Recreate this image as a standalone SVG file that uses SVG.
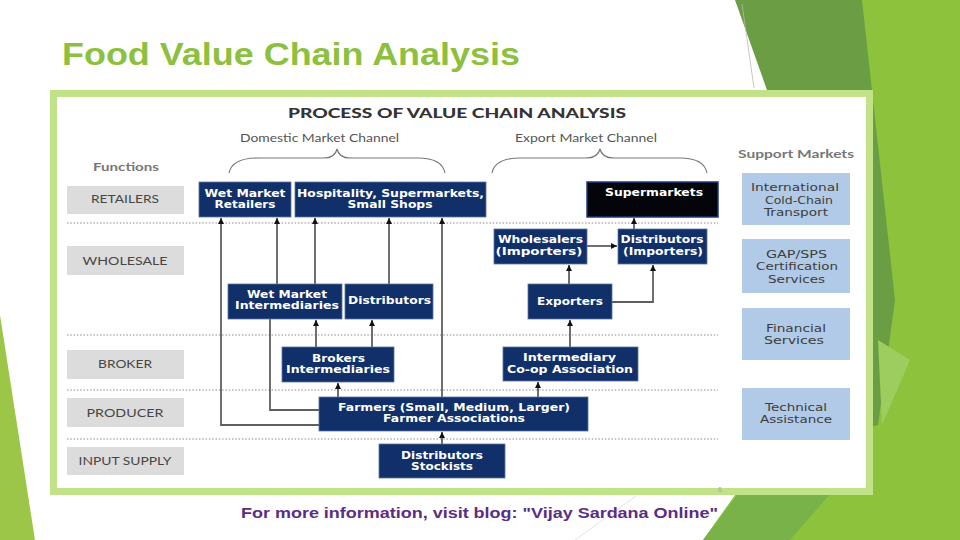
<svg xmlns="http://www.w3.org/2000/svg" width="960" height="540" viewBox="0 0 960 540">
<defs>
<marker id="ah" viewBox="0 0 6 6" refX="6" refY="3" markerWidth="6" markerHeight="6" markerUnits="userSpaceOnUse" orient="auto">
<path d="M0,0 L6,3 L0,6 z" fill="#111"/>
</marker>
<style>
.fnbox{fill:#dcdcdc}
.fn{font-family:Lato,"Liberation Sans",sans-serif;font-size:11.5px;fill:#474747;text-anchor:middle}
.hdr{font-family:Lato,"Liberation Sans",sans-serif;font-size:11.5px;fill:#555;text-anchor:middle}
.hdrb{font-family:Lato,"Liberation Sans",sans-serif;font-size:11.5px;font-weight:bold;fill:#777;text-anchor:middle}
.nvbox{fill:#11306a;stroke:#5a74a4;stroke-width:0.8}
.nv{font-family:"DejaVu Sans",Verdana,sans-serif;font-weight:bold;font-size:10.5px;fill:#fff;text-anchor:middle}
.spbox{fill:#b1cae7}
.sp{font-family:"DejaVu Sans",Verdana,sans-serif;font-size:11px;fill:#3d3d3d;text-anchor:middle}
.dot{stroke:#8a8a8a;stroke-width:1;stroke-dasharray:1.5 1.8;fill:none}
.con{stroke:#5f5f5f;stroke-width:1.8;fill:none}
.arr{marker-end:url(#ah)}
.brace{stroke:#777;stroke-width:1.2;fill:none}
</style>
</defs>

<!-- background decoration -->
<rect x="0" y="0" width="960" height="540" fill="#ffffff"/>
<polygon points="0,315 35,540 0,540" fill="#9cc648"/>
<polygon points="862,0 960,0 960,540 703,540 760,460" fill="#8dc23d"/>
<polygon points="735,0 862,0 895,300 878,425 860,430 767,90" fill="#6b9d44"/>
<polygon points="878,340 910,360 882,425" fill="#9ccd5e"/>
<polygon points="703,540 738,494 830,494 790,540" fill="#79b249"/>
<line x1="742" y1="4" x2="754" y2="88" stroke="#b8b8b8" stroke-width="0.8"/>
<line x1="636" y1="496" x2="575" y2="540" stroke="#d0d0d0" stroke-width="0.6"/>

<!-- title -->
<text x="62" y="65" font-family="'Liberation Sans',Arial,sans-serif" font-size="31" font-weight="bold" fill="#8dc03f" textLength="458" lengthAdjust="spacingAndGlyphs">Food Value Chain Analysis</text>

<!-- frame -->
<rect x="53.5" y="93.5" width="816" height="398" fill="#ffffff" stroke="#c2e289" stroke-width="7"/>

<!-- headings -->
<text x="457" y="118" font-family="Lato,'Liberation Sans',sans-serif" font-size="14" font-weight="900" fill="#333" text-anchor="middle" textLength="338" lengthAdjust="spacingAndGlyphs">PROCESS OF VALUE CHAIN ANALYSIS</text>
<text class="hdr" x="319.5" y="142" textLength="159" lengthAdjust="spacingAndGlyphs">Domestic Market Channel</text>
<text class="hdr" x="586" y="142" textLength="142" lengthAdjust="spacingAndGlyphs">Export Market Channel</text>
<text class="hdrb" x="126" y="171" textLength="66" lengthAdjust="spacingAndGlyphs">Functions</text>
<text class="hdrb" x="796" y="158" textLength="116" lengthAdjust="spacingAndGlyphs">Support Markets</text>
<path class="brace" d="M229,173 Q232,158 258,158 L324,158 Q335,158 337,149 Q339,158 350,158 L418,158 Q442,158 445,173"/>
<path class="brace" d="M492,173 Q495,158 520,158 L586,158 Q598,158 600,149 Q602,158 614,158 L680,158 Q704,158 707,173"/>

<!-- dotted separators -->
<g id="separators">
<line class="dot" x1="67" y1="223" x2="718" y2="223"/>
<line class="dot" x1="67" y1="335" x2="718" y2="335"/>
<line class="dot" x1="67" y1="390" x2="718" y2="390"/>
<line class="dot" x1="67" y1="439" x2="718" y2="439"/>
</g>

<!-- function labels -->
<g id="f-retailers"><rect class="fnbox" x="67" y="186" width="117" height="28"/><text class="fn" x="125" y="203" textLength="68" lengthAdjust="spacingAndGlyphs">RETAILERS</text></g>
<g id="f-wholesale"><rect class="fnbox" x="67" y="246" width="117" height="29"/><text class="fn" x="125" y="265" textLength="85" lengthAdjust="spacingAndGlyphs">WHOLESALE</text></g>
<g id="f-broker"><rect class="fnbox" x="67" y="350" width="117" height="29"/><text class="fn" x="125" y="368" textLength="54" lengthAdjust="spacingAndGlyphs">BROKER</text></g>
<g id="f-producer"><rect class="fnbox" x="67" y="398" width="117" height="29"/><text class="fn" x="125" y="417" textLength="77" lengthAdjust="spacingAndGlyphs">PRODUCER</text></g>
<g id="f-input"><rect class="fnbox" x="67" y="447" width="117" height="28"/><text class="fn" x="125" y="465" textLength="93" lengthAdjust="spacingAndGlyphs">INPUT SUPPLY</text></g>

<!-- connectors -->
<g id="connectors">
<path class="con arr" d="M319,425 H221 V218"/>
<path class="con" d="M319,410 H270 V319"/>
<path class="con arr" d="M277,284 V218"/>
<path class="con arr" d="M315,284 V218"/>
<path class="con arr" d="M389,284 V218"/>
<path class="con arr" d="M442,397 V218"/>
<path class="con arr" d="M316,347 V320"/>
<path class="con arr" d="M372,347 V320"/>
<path class="con arr" d="M338,397 V383"/>
<path class="con arr" d="M538,397 V382"/>
<path class="con arr" d="M442,444 V432"/>
<path class="con arr" d="M570,347 V320"/>
<path class="con arr" d="M569,284 V265"/>
<path class="con arr" d="M612,302 H653 V265"/>
<path class="con arr" d="M587,246 H617"/>
<path class="con arr" d="M634,229 V218"/>
</g>

<!-- navy nodes -->
<g id="n-wmr"><rect class="nvbox" x="199" y="182" width="92" height="35"/><text class="nv" x="245" y="197" textLength="81" lengthAdjust="spacingAndGlyphs">Wet Market</text><text class="nv" x="245" y="208" textLength="61" lengthAdjust="spacingAndGlyphs">Retailers</text></g>
<g id="n-hosp"><rect class="nvbox" x="295" y="182" width="191" height="35"/><text class="nv" x="390.5" y="197" textLength="187" lengthAdjust="spacingAndGlyphs">Hospitality, Supermarkets,</text><text class="nv" x="390" y="208" textLength="85" lengthAdjust="spacingAndGlyphs">Small Shops</text></g>
<g id="n-super"><rect x="587" y="182" width="131" height="35" fill="#03050a" stroke="#1d3a78" stroke-width="1.5"/><text class="nv" x="654" y="196" textLength="98" lengthAdjust="spacingAndGlyphs">Supermarkets</text></g>
<g id="n-wholesalers"><rect class="nvbox" x="494" y="229" width="93" height="35"/><text class="nv" x="540.5" y="243" textLength="85" lengthAdjust="spacingAndGlyphs">Wholesalers</text><text class="nv" x="539" y="255" textLength="87" lengthAdjust="spacingAndGlyphs">(Importers)</text></g>
<g id="n-distimp"><rect class="nvbox" x="618" y="229" width="89" height="35"/><text class="nv" x="662" y="243" textLength="83" lengthAdjust="spacingAndGlyphs">Distributors</text><text class="nv" x="663" y="255" textLength="80" lengthAdjust="spacingAndGlyphs">(Importers)</text></g>
<g id="n-wmi"><rect class="nvbox" x="228" y="284" width="114" height="35"/><text class="nv" x="287" y="298" textLength="80" lengthAdjust="spacingAndGlyphs">Wet Market</text><text class="nv" x="287" y="309" textLength="104" lengthAdjust="spacingAndGlyphs">Intermediaries</text></g>
<g id="n-dist"><rect class="nvbox" x="345" y="284" width="88" height="35"/><text class="nv" x="389.5" y="304" textLength="83" lengthAdjust="spacingAndGlyphs">Distributors</text></g>
<g id="n-exporters"><rect class="nvbox" x="528" y="284" width="84" height="35"/><text class="nv" x="570" y="305" textLength="66" lengthAdjust="spacingAndGlyphs">Exporters</text></g>
<g id="n-brokers"><rect class="nvbox" x="282" y="347" width="112" height="35"/><text class="nv" x="338.5" y="362" textLength="53" lengthAdjust="spacingAndGlyphs">Brokers</text><text class="nv" x="338" y="373" textLength="104" lengthAdjust="spacingAndGlyphs">Intermediaries</text></g>
<g id="n-coop"><rect class="nvbox" x="503" y="347" width="135" height="34"/><text class="nv" x="569.5" y="361" textLength="93" lengthAdjust="spacingAndGlyphs">Intermediary</text><text class="nv" x="570" y="373" textLength="126" lengthAdjust="spacingAndGlyphs">Co-op Association</text></g>
<g id="n-farmers"><rect class="nvbox" x="319" y="397" width="269" height="34"/><text class="nv" x="454" y="411" textLength="232" lengthAdjust="spacingAndGlyphs">Farmers (Small, Medium, Larger)</text><text class="nv" x="454" y="422" textLength="142" lengthAdjust="spacingAndGlyphs">Farmer Associations</text></g>
<g id="n-stockists"><rect class="nvbox" x="379" y="444" width="126" height="34"/><text class="nv" x="442" y="459" textLength="82" lengthAdjust="spacingAndGlyphs">Distributors</text><text class="nv" x="442" y="470" textLength="62" lengthAdjust="spacingAndGlyphs">Stockists</text></g>

<!-- support markets -->
<g id="s-cold"><rect class="spbox" x="742" y="173" width="108" height="52"/><text class="sp" x="795" y="191" textLength="88" lengthAdjust="spacingAndGlyphs">International</text><text class="sp" x="799" y="204" textLength="68" lengthAdjust="spacingAndGlyphs">Cold-Chain</text><text class="sp" x="796" y="216" textLength="64" lengthAdjust="spacingAndGlyphs">Transport</text></g>
<g id="s-gap"><rect class="spbox" x="742" y="239" width="108" height="54"/><text class="sp" x="796.5" y="258" textLength="61" lengthAdjust="spacingAndGlyphs">GAP/SPS</text><text class="sp" x="797" y="270" textLength="82" lengthAdjust="spacingAndGlyphs">Certification</text><text class="sp" x="796.5" y="283" textLength="57" lengthAdjust="spacingAndGlyphs">Services</text></g>
<g id="s-fin"><rect class="spbox" x="742" y="308" width="108" height="52"/><text class="sp" x="796" y="332" textLength="60" lengthAdjust="spacingAndGlyphs">Financial</text><text class="sp" x="794" y="344" textLength="60" lengthAdjust="spacingAndGlyphs">Services</text></g>
<g id="s-tech"><rect class="spbox" x="742" y="388" width="108" height="52"/><text class="sp" x="796" y="411" textLength="62" lengthAdjust="spacingAndGlyphs">Technical</text><text class="sp" x="796" y="423" textLength="72" lengthAdjust="spacingAndGlyphs">Assistance</text></g>

<!-- page number and footer -->
<text x="720" y="492" font-family="'Liberation Sans',sans-serif" font-size="7" fill="#a8a8a8" text-anchor="middle">6</text>
<text x="241" y="518" font-family="'Liberation Sans',Arial,sans-serif" font-size="14.5" font-weight="bold" fill="#5a2d86" textLength="477" lengthAdjust="spacingAndGlyphs">For more information, visit blog: "Vijay Sardana Online"</text>
</svg>
